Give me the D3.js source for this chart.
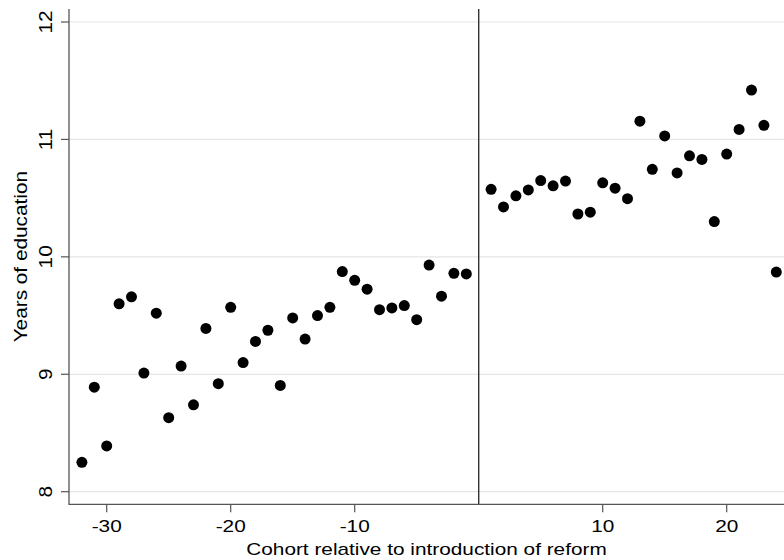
<!DOCTYPE html>
<html>
<head>
<meta charset="utf-8">
<script src="https://cdn.jsdelivr.net/npm/d3@7"></script>
<style>
  html, body { margin: 0; padding: 0; background: #fff; }
  svg { display: block; }
  text { font-family: "Liberation Sans", Arial, sans-serif; fill: #000; }
</style>
</head>
<body>
<svg id="chart" width="784" height="560"></svg>
<script>
// ---- data ----
const cohorts = [-32,-31,-30,-29,-28,-27,-26,-25,-24,-23,-22,-21,-20,-19,-18,-17,-16,-15,-14,-13,-12,-11,-10,-9,-8,-7,-6,-5,-4,-3,-2,-1,
                 1,2,3,4,5,6,7,8,9,10,11,12,13,14,15,16,17,18,19,20,21,22,23,24];
const years = [8.25,8.89,8.39,9.60,9.66,9.01,9.52,8.63,9.07,8.74,9.39,8.92,9.57,9.10,9.28,9.375,8.905,9.48,9.30,9.50,9.57,9.875,9.80,9.725,9.55,9.565,9.585,9.465,9.93,9.665,9.86,9.855,
               10.575,10.425,10.52,10.57,10.65,10.605,10.645,10.365,10.38,10.63,10.585,10.495,11.155,10.745,11.03,10.715,10.86,10.83,10.30,10.875,11.085,11.42,11.12,9.87];
const xTicks = [-30,-20,-10,10,20];
const yTicks = [8,9,10,11,12];
const reformCohort = [0];
const xTitle = "Cohort relative to introduction of reform";
const yTitle = "Years of education";

// ---- layout ----
const svg = d3.select("#chart");
const pLeft = 69, pRight = 784, pTop = 9, pBottom = 504.3;
const x = d3.scaleLinear().domain([-30, 20]).range([106.7, 726.7]);
const y = d3.scaleLinear().domain([8, 12]).range([491.7, 22]);
const SX = 1.3; // horizontal stretch of text as in the reference
const SV = 1.1;
const FS = 16;

// gridlines
svg.append("g").selectAll("line").data(yTicks).join("line")
  .attr("x1", pLeft).attr("x2", pRight)
  .attr("y1", d => y(d)).attr("y2", d => y(d))
  .attr("stroke", "#e6e6e6").attr("stroke-width", 1.2);

// reform line
svg.append("g").selectAll("line").data(reformCohort).join("line")
  .attr("x1", d => x(d)).attr("x2", d => x(d))
  .attr("y1", pTop).attr("y2", pBottom)
  .attr("stroke", "#333").attr("stroke-width", 1.4);

// axes lines
svg.append("line").attr("x1", pLeft).attr("x2", pLeft).attr("y1", pTop).attr("y2", pBottom + 0.6)
  .attr("stroke", "#555").attr("stroke-width", 1.3);
svg.append("line").attr("x1", pLeft).attr("x2", pRight).attr("y1", pBottom).attr("y2", pBottom)
  .attr("stroke", "#555").attr("stroke-width", 1.3);

// y ticks
svg.append("g").selectAll("line").data(yTicks).join("line")
  .attr("x1", pLeft - 8).attr("x2", pLeft)
  .attr("y1", d => y(d)).attr("y2", d => y(d))
  .attr("stroke", "#555").attr("stroke-width", 1.2);
svg.append("g").selectAll("text").data(yTicks).join("text")
  .attr("transform", d => `translate(51.5,${y(d)}) rotate(-90) scale(${SX},${SV})`)
  .attr("text-anchor", "middle")
  .attr("font-size", FS)
  .text(d => d);

// x ticks
svg.append("g").selectAll("line").data(xTicks).join("line")
  .attr("x1", d => x(d)).attr("x2", d => x(d))
  .attr("y1", pBottom).attr("y2", pBottom + 8)
  .attr("stroke", "#555").attr("stroke-width", 1.2);
svg.append("g").selectAll("text").data(xTicks).join("text")
  .attr("transform", d => `translate(${x(d)},531.7) scale(${SX},1)`)
  .attr("text-anchor", "middle")
  .attr("font-size", FS)
  .text(d => d);

// titles
svg.append("text")
  .attr("transform", `translate(${(pLeft + pRight) / 2},555) scale(${SX},1)`)
  .attr("text-anchor", "middle").attr("font-size", FS)
  .text(xTitle);
svg.append("text")
  .attr("transform", `translate(26.5,${(pTop + pBottom) / 2}) rotate(-90) scale(${SX},${SV})`)
  .attr("text-anchor", "middle").attr("font-size", FS)
  .text(yTitle);

// points
svg.append("g").selectAll("circle").data(cohorts).join("circle")
  .attr("cx", d => x(d))
  .attr("cy", (d, i) => y(years[i]))
  .attr("r", 5.5)
  .attr("fill", "#000");
</script>
</body>
</html>
